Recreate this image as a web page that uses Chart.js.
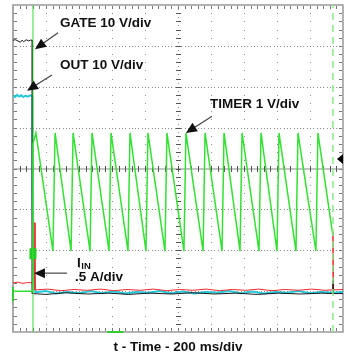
<!DOCTYPE html>
<html>
<head>
<meta charset="utf-8">
<script src="https://cdn.jsdelivr.net/npm/chart.js@4.4.1/dist/chart.umd.min.js"></script>
<style>
  html, body { margin: 0; padding: 0; background: #fff; }
</style>
</head>
<body>
<canvas id="scope" width="348" height="359"></canvas>
<script>
// screen: 10 div x 200 ms across, 8 div down; trace values are in divisions
const timeSpan = [0, 2000];
const divRange = [-4, 4];

// [ms, div]
const gateTrace = [
  [0, 3.14], [15, 3.15], [30, 3.12], [45, 3.09], [55, 3.14], [65, 3.10], [80, 3.15],
  [95, 3.12], [105, 3.14], [117, 3.14], [117, -3.06], [200, -3.08], [320, -3.04],
  [450, -3.07], [580, -3.05], [700, -3.08], [830, -3.05], [960, -3.07], [1090, -3.04],
  [1220, -3.07], [1350, -3.05], [1480, -3.08], [1610, -3.05], [1740, -3.07],
  [1870, -3.05], [1936, -3.06], [1939, -2.72], [1942, -3.06], [2000, -3.06]
];

const outTrace = [
  [0, 1.77], [12, 1.75], [25, 1.80], [38, 1.76], [50, 1.79], [62, 1.75], [75, 1.78],
  [90, 1.76], [105, 1.79], [118, 1.77], [118, -0.62], [124, -2.20], [135, -3.03],
  [200, -3.00], [260, -3.06], [330, -3.02], [400, -3.05], [470, -3.00], [540, -3.05],
  [610, -3.01], [680, -3.06], [750, -3.02], [820, -3.04], [890, -3.00], [960, -3.05],
  [1030, -3.01], [1100, -3.06], [1170, -3.02], [1240, -3.04], [1310, -3.00],
  [1380, -3.05], [1450, -3.01], [1520, -3.06], [1590, -3.02], [1660, -3.04],
  [1730, -3.00], [1800, -3.05], [1870, -3.02], [1940, -3.04], [2000, -3.02]
];

const iinTrace = [
  [0, -2.80], [30, -2.78], [60, -2.81], [90, -2.79], [121, -2.80], [121, -1.33],
  [114, -1.33], [133, -1.33], [133, -2.97], [210, -2.95], [290, -2.99], [370, -2.96],
  [450, -2.98], [530, -2.95], [610, -2.99], [690, -2.96], [770, -2.98], [850, -2.95],
  [930, -2.99], [1010, -2.96], [1090, -2.98], [1170, -2.95], [1250, -2.99],
  [1330, -2.96], [1410, -2.98], [1490, -2.95], [1570, -2.99], [1650, -2.96],
  [1730, -2.98], [1810, -2.95], [1890, -2.98], [1936, -2.97], [1939, -1.55],
  [1943, -2.97], [2000, -2.96]
];

// retry timer: fast charge, slow discharge
const timerTrace = [
  [0, -3.00], [121, -3.00], [121, 0.60], [139, 0.87],
  [242, -2.02], [255, 0.87], [352, -2.02], [364, 0.87],
  [467, -2.02], [479, 0.87], [582, -2.02], [594, 0.87],
  [697, -2.02], [709, 0.87], [806, -2.02], [818, 0.87],
  [921, -2.02], [933, 0.87], [1036, -2.02], [1048, 0.87],
  [1152, -2.02], [1164, 0.87], [1267, -2.02], [1279, 0.87],
  [1376, -2.02], [1388, 0.87], [1491, -2.02], [1503, 0.87],
  [1600, -2.02], [1612, 0.87], [1715, -2.02], [1727, 0.87],
  [1836, -2.02], [1848, 0.87], [1939, -1.65]
];

// timer edges at fault and at retry
const faultEdge = [[121, -4], [121, 4]];
const retryEdge = [[1939, -4], [1939, 4]];
const timerBlip = [[121, -1.95], [121, -2.22]];

const pts = arr => arr.map(([x, y]) => ({ x, y }));

function arrow(ctx, x1, y1, x2, y2) {
  const ang = Math.atan2(y2 - y1, x2 - x1);
  const len = 11, half = 5;
  ctx.beginPath();
  ctx.moveTo(x1, y1);
  ctx.lineTo(x2 - Math.cos(ang) * len * 0.8, y2 - Math.sin(ang) * len * 0.8);
  ctx.stroke();
  ctx.beginPath();
  ctx.moveTo(x2, y2);
  ctx.lineTo(x2 - Math.cos(ang) * len - Math.sin(ang) * half, y2 - Math.sin(ang) * len + Math.cos(ang) * half);
  ctx.lineTo(x2 - Math.cos(ang) * len + Math.sin(ang) * half, y2 - Math.sin(ang) * len - Math.cos(ang) * half);
  ctx.closePath();
  ctx.fill();
}

const scopeGrid = {
  id: 'scopeGrid',
  beforeDatasetsDraw(chart) {
    const { ctx, chartArea: a } = chart;
    const dx = (a.right - a.left) / 10;
    const dy = (a.bottom - a.top) / 8;
    const cx = a.left + dx * 5;
    const cy = a.top + dy * 4;
    ctx.save();
    ctx.fillStyle = '#8a8a8a';
    // dotted division lines
    for (let i = 1; i < 8; i++) {
      if (i === 4) continue;
      const yy = Math.round(a.top + dy * i);
      for (let k = 1; k < 100; k++) ctx.fillRect(Math.round(a.left + dx * k / 10), yy, 1, 1);
    }
    for (let j = 1; j < 10; j++) {
      if (j === 5) continue;
      const xx = Math.round(a.left + dx * j);
      for (let k = 1; k < 40; k++) ctx.fillRect(xx, Math.round(a.top + dy * k / 5), 1, 1);
    }
    // centre cross with minor ticks
    ctx.fillStyle = '#c4c4c4';
    ctx.fillRect(a.left, Math.round(cy) - 1, a.right - a.left, 2);
    ctx.fillStyle = '#555';
    for (let k = 1; k < 50; k++) ctx.fillRect(Math.round(a.left + dx * k / 5), Math.round(cy) - 3, 1, 6);
    ctx.fillStyle = '#8a8a8a';
    for (let k = 1; k < 80; k++) ctx.fillRect(Math.round(cx), Math.round(a.top + dy * k / 10), 1, 1);
    ctx.fillStyle = '#555';
    for (let k = 1; k < 40; k++) ctx.fillRect(Math.round(cx) - 2, Math.round(a.top + dy * k / 5), 5, 1);
    // edge ticks
    ctx.fillStyle = '#777';
    for (let k = 1; k < 50; k++) {
      const xx = Math.round(a.left + dx * k / 5);
      ctx.fillRect(xx, a.top + 1, 1, 3);
      ctx.fillRect(xx, a.bottom - 4, 1, 3);
    }
    for (let k = 1; k < 40; k++) {
      const yy = Math.round(a.top + dy * k / 5);
      ctx.fillRect(a.left + 1, yy, 3, 1);
      ctx.fillRect(a.right - 4, yy, 3, 1);
    }
    // frame
    ctx.strokeStyle = '#999';
    ctx.lineWidth = 1.5;
    ctx.strokeRect(a.left, a.top, a.right - a.left, a.bottom - a.top);
    ctx.fillStyle = '#a8a8a8';
    ctx.fillRect(a.left - 1, a.top, 2, a.bottom - a.top);
    ctx.restore();
  },
  afterDatasetsDraw(chart) {
    const { ctx, chartArea: a, scales: { x, y } } = chart;
    const px = v => x.getPixelForValue(v);
    const py = v => y.getPixelForValue(v);
    ctx.save();
    ctx.fillStyle = '#111';
    ctx.strokeStyle = '#444';
    ctx.lineWidth = 1.2;
    ctx.font = 'bold 13.5px "Liberation Sans", Arial, sans-serif';
    ctx.textBaseline = 'middle';
    ctx.textAlign = 'left';
    ctx.fillText('GATE 10 V/div', px(285), py(3.56));
    ctx.fillText('OUT 10 V/div', px(285), py(2.53));
    ctx.fillText('TIMER 1 V/div', px(1194), py(1.58));
    ctx.fillText('I', px(388), py(-2.32));
    const iw = ctx.measureText('I').width;
    ctx.font = 'bold 9.5px "Liberation Sans", Arial, sans-serif';
    ctx.fillText('IN', px(388) + iw + 0.5, py(-2.32) + 3);
    ctx.font = 'bold 13.5px "Liberation Sans", Arial, sans-serif';
    ctx.fillText('.5 A/div', px(376), py(-2.67));

    arrow(ctx, px(273), py(3.32), px(133), py(2.92));
    arrow(ctx, px(236), py(2.29), px(85), py(1.90));
    arrow(ctx, px(1206), py(1.28), px(1048), py(0.87));
    arrow(ctx, px(327), py(-2.56), px(127), py(-2.56));

    // trigger level marker on the right edge
    ctx.fillStyle = '#000';
    ctx.beginPath();
    ctx.moveTo(a.right - 6, py(0.23));
    ctx.lineTo(a.right, py(0.23) - 5);
    ctx.lineTo(a.right, py(0.23) + 5);
    ctx.closePath();
    ctx.fill();

    // trigger position marker
    ctx.fillStyle = '#3c3';
    ctx.fillRect(px(570), a.bottom - 1, px(670) - px(570), 2);
    ctx.fillRect(a.left - 1, py(-2.9), 2, py(-3.25) - py(-2.9));

    ctx.fillStyle = '#111';
    ctx.textAlign = 'center';
    ctx.fillText('t - Time - 200 ms/div', (a.left + a.right) / 2, a.bottom + 15);
    ctx.restore();
  }
};

const line = (data, color, extra) => Object.assign({
  data: pts(data), borderColor: color, borderWidth: 1, pointRadius: 0,
  tension: 0, fill: false
}, extra || {});

new Chart(document.getElementById('scope'), {
  type: 'line',
  data: {
    datasets: [
      line(faultEdge, '#3ddc3d'),
      line(retryEdge, '#8be88b', { borderDash: [7, 5], borderWidth: 1.5 }),
      line(timerBlip, '#22cc22', { borderWidth: 7 }),
      line(timerTrace, '#35e035', { borderWidth: 1.5 }),
      line(gateTrace, '#1a1a1a'),
      line(iinTrace, '#ee2a2a'),
      line(outTrace, '#28c8dc', { borderWidth: 2 })
    ]
  },
  options: {
    responsive: false,
    animation: false,
    devicePixelRatio: 1,
    layout: { padding: { left: 13, top: 5, right: 5, bottom: 27 } },
    scales: {
      x: { type: 'linear', min: timeSpan[0], max: timeSpan[1], display: false },
      y: { type: 'linear', min: divRange[0], max: divRange[1], display: false }
    },
    plugins: { legend: { display: false }, tooltip: { enabled: false } }
  },
  plugins: [scopeGrid]
});
</script>
</body>
</html>
